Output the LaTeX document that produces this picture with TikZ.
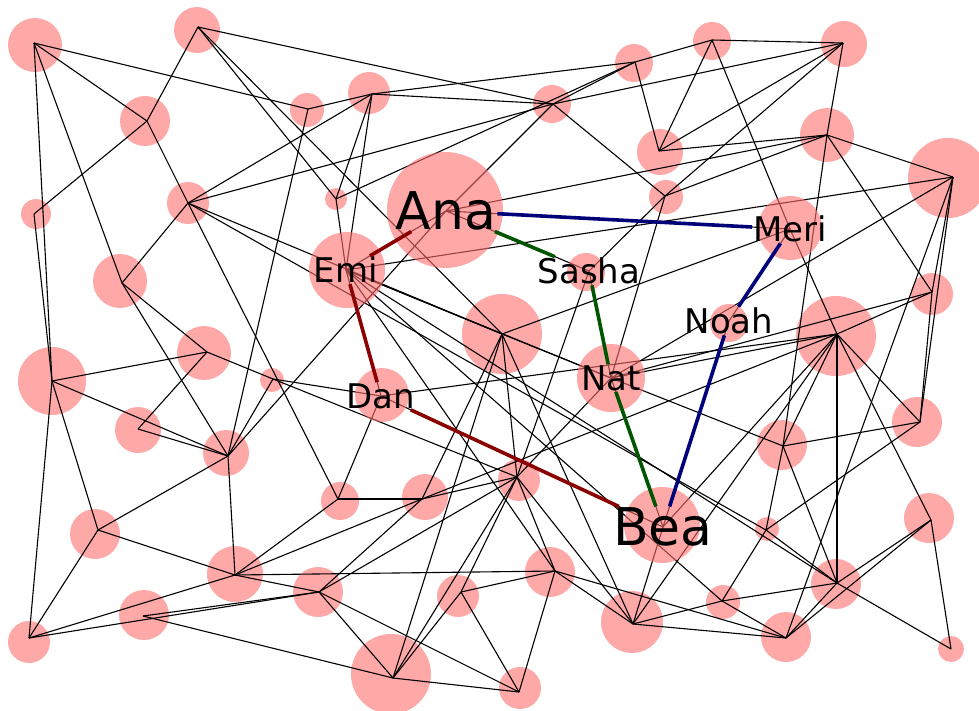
\documentclass[tikz,border=0pt]{standalone}
\usepackage{fontspec}
\setmainfont{DejaVu Sans}
\usepackage{tikz}
\definecolor{pinkc}{RGB}{255,168,168}
\definecolor{hpink}{RGB}{255,110,110}
\definecolor{rlc}{RGB}{139,0,0}
\definecolor{glc}{RGB}{0,85,0}
\definecolor{blc}{RGB}{0,0,120}
\tikzstyle{disc} = [fill=pinkc]
\tikzstyle{hdisc} = [fill=hpink, fill opacity=0.6]
\tikzstyle{lnk} = [draw, line width=1.1pt]
\tikzstyle{rlnk} = [draw=rlc, line width=3.6pt]
\tikzstyle{glnk} = [draw=glc, line width=3.6pt]
\tikzstyle{blnk} = [draw=blc, line width=3.6pt]
\tikzstyle{lbl} = [inner sep=1pt, font=\fontsize{34}{34}\selectfont]
\tikzstyle{lblbig} = [inner sep=1pt, font=\fontsize{52}{52}\selectfont]

\begin{document}
\begin{tikzpicture}[x=1pt,y=-1pt]
    \useasboundingbox (0,0) rectangle (979,710);
    % junctions
    \coordinate (a) at (34,43);
    \coordinate (b) at (198,27);
    \coordinate (c) at (147,121);
    \coordinate (d) at (308,109);
    \coordinate (e) at (372,94);
    \coordinate (f) at (553,104);
    \coordinate (g) at (635,62);
    \coordinate (h) at (712,40);
    \coordinate (i) at (843,43);
    \coordinate (j) at (659,151);
    \coordinate (k) at (827,135);
    \coordinate (l) at (953,177);
    \coordinate (m) at (665,196);
    \coordinate (n) at (336,199);
    \coordinate (o) at (188,203);
    \coordinate (p) at (34,214);
    \coordinate (q) at (122,283);
    \coordinate (r) at (502,334);
    \coordinate (s) at (932,292);
    \coordinate (t) at (837,334);
    \coordinate (u) at (52,381);
    \coordinate (v) at (207,352);
    \coordinate (w) at (273,379);
    \coordinate (x) at (138,429);
    \coordinate (y) at (228,456);
    \coordinate (z) at (920,422);
    \coordinate (aa) at (783,446);
    \coordinate (bb) at (338,499);
    \coordinate (cc) at (422,499);
    \coordinate (dd) at (517,477);
    \coordinate (ee) at (931,520);
    \coordinate (ff) at (766,530);
    \coordinate (gg) at (98,530);
    \coordinate (hh) at (235,575);
    \coordinate (ii) at (143,616);
    \coordinate (jj) at (319,592);
    \coordinate (kk) at (29,638);
    \coordinate (ll) at (461,592);
    \coordinate (mm) at (555,571);
    \coordinate (nn) at (393,678);
    \coordinate (oo) at (519,692);
    \coordinate (pp) at (633,624);
    \coordinate (qq) at (722,601);
    \coordinate (rr) at (786,638);
    \coordinate (ss) at (837,583);
    \coordinate (tt) at (951,649);
    \coordinate (ana) at (446,211);
    \coordinate (emi) at (346,270);
    \coordinate (sasha) at (589,271);
    \coordinate (meri) at (790,229);
    \coordinate (noah) at (729,321);
    \coordinate (nat) at (611,378);
    \coordinate (dan) at (381,396);
    \coordinate (bea) at (663,527);

    % plain discs
    \fill[disc] (35,45) circle (27pt) (197,30) circle (23pt) (145,121) circle (25pt)
      (307,110) circle (17pt) (369,93) circle (21pt) (552,104) circle (19pt)
      (634,63) circle (19pt) (712,41) circle (19pt) (844,44) circle (23pt)
      (660,152) circle (23pt) (827,135) circle (27pt) (948,178) circle (40pt)
      (666,197) circle (17pt) (336,199) circle (11pt) (188,203) circle (21pt)
      (36,214) circle (15pt) (120,281) circle (27pt) (502,334) circle (40pt)
      (932,294) circle (21pt) (836,336) circle (40pt) (52,381) circle (34pt)
      (204,353) circle (27pt) (272,380) circle (12pt) (138,430) circle (23pt)
      (226,453) circle (23pt) (917,422) circle (25pt) (782,445) circle (25pt)
      (340,501) circle (19pt) (425,497) circle (23pt) (519,480) circle (21pt)
      (929,518) circle (25pt) (767,529) circle (12pt) (95,534) circle (25pt)
      (235,574) circle (28pt) (144,615) circle (25pt) (318,592) circle (25pt)
      (29,642) circle (21pt) (458,596) circle (21pt) (550,572) circle (25pt)
      (391,674) circle (40pt) (520,688) circle (21pt) (632,622) circle (31pt)
      (723,602) circle (17pt) (786,637) circle (25pt) (836,584) circle (25pt)
      (951,649) circle (13pt);

    % links
    \draw[lnk] (a) edge (c) edge (d) edge (u) edge (q);
    \draw[lnk] (b) edge (c) edge (f) edge (n) edge (r);
    \draw[lnk] (c) edge (p) edge (o);
    \draw[lnk] (d) edge (e) edge (y);
    \draw[lnk] (e) edge (f) edge (g) edge (n) edge (o) edge (emi);
    \draw[lnk] (f) edge (o) edge (ana) edge (g) edge (i) edge (m);
    \draw[lnk] (g) edge (h) edge (j) edge (n);
    \draw[lnk] (h) edge (i) edge (j) edge (meri);
    \draw[lnk] (i) edge (j) edge (k) edge (m);
    \draw[lnk] (j) edge (k);
    \draw[lnk] (k) edge (l) edge (ana) edge (m) edge (aa) edge (s);
    \draw[lnk] (l) edge (emi) edge (z) edge (rr) edge (s) edge (nat);
    \draw[lnk] (m) edge (sasha) edge (nat);
    \draw[lnk] (n) edge (emi);
    \draw[lnk] (o) edge (q) edge (bb) edge (r) edge (ff);
    \draw[lnk] (emi) edge (ana) edge (dan) edge (r) edge (nat) edge (ss) edge (mm) edge (qq);
    \draw[lnk] (ana) edge (y) edge (meri) edge (sasha);
    \draw[lnk] (q) edge (v) edge (y);
    \draw[lnk] (sasha) edge (nat) edge (dd);
    \draw[lnk] (meri) edge (r) edge (t) edge (noah);
    \draw[lnk] (r) edge (nat) edge (cc) edge (nn) edge (dd) edge (pp);
    \draw[lnk] (noah) edge (bea);
    \draw[lnk] (s) edge (z) edge (t) edge (nat);
    \draw[lnk] (t) edge (nat) edge (dan) edge (cc) edge (aa) edge (pp) edge (ss) edge (ee) edge (z) edge (bea);
    \draw[lnk] (u) edge (p) edge (v) edge (y) edge (kk) edge (gg);
    \draw[lnk] (v) edge (x) edge (w);
    \draw[lnk] (w) edge (y) edge (dan) edge (dd);
    \draw[lnk] (x) edge (y);
    \draw[lnk] (y) edge (hh) edge (gg);
    \draw[lnk] (dan) edge (bea) edge (bb);
    \draw[lnk] (nat) edge (aa) edge (dd) edge (bea);
    \draw[lnk] (z) edge (aa) edge (ff);
    \draw[lnk] (aa) edge (ss) edge (ff);
    \draw[lnk] (bb) edge (cc) edge (hh);
    \draw[lnk] (cc) edge (dd) edge (hh) edge (jj);
    \draw[lnk] (dd) edge (ll) edge (nn) edge (mm) edge (pp) edge (jj);
    \draw[lnk] (bea) edge (pp);
    \draw[lnk] (ee) edge (rr) edge (ss) edge (tt);
    \draw[lnk] (ff) edge (qq) edge (ss);
    \draw[lnk] (gg) edge (kk) edge (hh);
    \draw[lnk] (hh) edge (mm) edge (jj) edge (kk);
    \draw[lnk] (ii) edge (jj) edge (nn);
    \draw[lnk] (jj) edge (kk) edge (nn) edge (oo);
    \draw[lnk] (ll) edge (mm) edge (nn) edge (oo);
    \draw[lnk] (mm) edge (oo) edge (pp) edge (rr);
    \draw[lnk] (nn) edge (oo);
    \draw[lnk] (pp) edge (qq) edge (rr);
    \draw[lnk] (qq) edge (rr) edge (ss);
    \draw[lnk] (rr) edge (ss);
    \draw[lnk] (ss) edge (tt);

    % named discs
    \fill[hdisc] (445,210) circle (58pt) (347,270) circle (38pt) (586,272) circle (19pt)
      (790,228) circle (32pt) (729,323) circle (19pt) (611,378) circle (34pt)
      (382,395) circle (27pt) (662,525) circle (38pt);

    % names
    \node[lblbig] (ana-l) at (ana) {Ana};
    \node[lbl] (emi-l) at (emi) {Emi};
    \node[lbl] (sasha-l) at (sasha) {Sasha};
    \node[lbl] (meri-l) at (meri) {Meri};
    \node[lbl] (noah-l) at (noah) {Noah};
    \node[lbl] (nat-l) at (nat) {Nat};
    \node[lbl] (dan-l) at (dan) {Dan};
    \node[lblbig] (bea-l) at (bea) {Bea};

    \draw[rlnk] (emi-l) edge (ana-l);
    \draw[rlnk] (emi-l) edge (dan-l);
    \draw[rlnk] (dan-l) edge (bea-l);
    \draw[glnk] (ana-l) edge (sasha-l);
    \draw[glnk] (sasha-l) edge (nat-l);
    \draw[glnk] (nat-l) edge (bea-l);
    \draw[blnk] (ana-l) edge (meri-l);
    \draw[blnk] (meri-l) edge (noah-l);
    \draw[blnk] (noah-l) edge (bea-l);
\end{tikzpicture}
\end{document}
